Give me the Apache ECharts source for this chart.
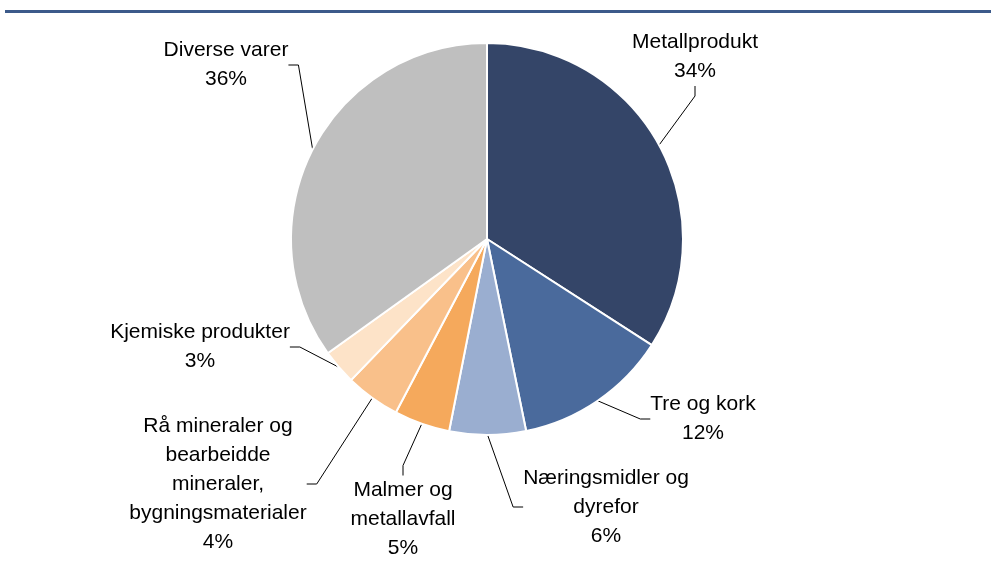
<!DOCTYPE html>
<html>
<head>
<meta charset="utf-8">
<script src="https://cdn.jsdelivr.net/npm/echarts@6/dist/echarts.min.js"></script>
<style>html,body{margin:0;padding:0;background:#fff}#c{width:991px;height:563px}</style>
</head>
<body>
<div id="c"></div>
<script>
const categories = ['Metallprodukt', 'Tre og kork', 'Næringsmidler og\ndyrefor', 'Malmer og\nmetallavfall', 'Rå mineraler og\nbearbeidde\nmineraler,\nbygningsmaterialer', 'Kjemiske produkter', 'Diverse varer'];
// slice sizes
const values = [34.1, 12.7, 6.3, 4.6, 4.5, 2.9, 34.9];
// percentages as printed in the labels
const labelPercents = [34, 12, 6, 5, 4, 3, 36];
const colors = ['#344568', '#4a6a9c', '#9aaed0', '#f5a95c', '#f9c08a', '#fde3c8', '#bfbfbf'];
// label centre positions (layout only)
const labelPos = [[695, 57], [703, 419], [606, 507], [403, 519], [218, 484], [200, 347], [226, 65]];

const chart = echarts.init(document.getElementById('c'));
chart.setOption({
  animation: false,
  graphic: [{ type: 'rect', shape: { x: 5, y: 10, width: 986, height: 3 }, style: { fill: '#3c5a8a' } }],
  series: [{
    type: 'pie',
    center: [487, 239],
    radius: [0, 196],
    startAngle: 90,
    clockwise: true,
    data: categories.map((c, i) => ({ name: c, value: values[i], itemStyle: { color: colors[i] } })),
    itemStyle: { borderColor: '#fff', borderWidth: 2 },
    label: {
      show: true,
      formatter: p => p.name + '\n' + labelPercents[p.dataIndex] + '%',
      fontFamily: 'Liberation Sans, Arial, sans-serif',
      fontSize: 21,
      lineHeight: 29,
      color: '#000',
      align: 'center'
    },
    labelLine: { show: true, length: 15, length2: 10, lineStyle: { color: '#000', width: 1 } },
    labelLayout: p => ({ x: labelPos[p.dataIndex][0], y: labelPos[p.dataIndex][1], align: 'center', verticalAlign: 'middle' })
  }]
});
</script>
</body>
</html>
